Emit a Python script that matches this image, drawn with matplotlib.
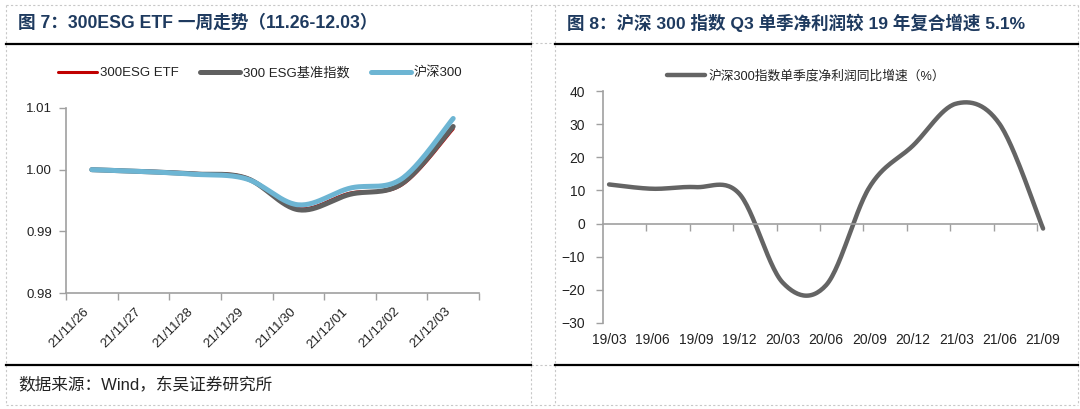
import matplotlib
matplotlib.use("Agg")
import matplotlib.pyplot as plt
import numpy as np
from matplotlib.transforms import blended_transform_factory

plt.rcParams['font.family'] = ['Liberation Sans', 'Noto Sans CJK SC', 'DejaVu Sans']

W, H = 1080, 409

# ---- data: left chart (one-week trend) ----
dates = ['21/11/26', '21/11/27', '21/11/28', '21/11/29',
         '21/11/30', '21/12/01', '21/12/02', '21/12/03']
etf = [1.0000, 0.9998, 0.9994, 0.9987, 0.9937, 0.9962, 0.9975, 1.0066]
bench = [1.0000, 0.9997, 0.9993, 0.9986, 0.9935, 0.9960, 0.9977, 1.0070]
hs300 = [1.0000, 0.9997, 0.99925, 0.9985, 0.9943, 0.9970, 0.9985, 1.0083]

# ---- data: right chart (quarterly net profit yoy, %) ----
quarters = ['19/03', '19/06', '19/09', '19/12', '20/03', '20/06',
            '20/09', '20/12', '21/03', '21/06', '21/09']
profit_yoy = [11.8, 10.5, 11.0, 9.0, -17.8, -18.6, 11.0, 23.5, 36.2, 30.0, -1.5]

TITLE_C = '#1e3a5f'
AXIS_C = '#a0a0a0'


def box(x0, y0, x1, y1):
    return [x0 / W, 1 - y1 / H, (x1 - x0) / W, (y1 - y0) / H]


def smooth(y, n=30):
    # excel-like smoothed line (catmull-rom through the points)
    y = np.asarray(y, float)
    x = np.arange(len(y), dtype=float)
    px = np.concatenate([[x[0]], x, [x[-1]]])
    py = np.concatenate([[y[0]], y, [y[-1]]])
    xs, ys = [], []
    t = np.linspace(0, 1, n)
    for i in range(len(y) - 1):
        for arr, out in ((px, xs), (py, ys)):
            p0, p1, p2, p3 = arr[i], arr[i + 1], arr[i + 2], arr[i + 3]
            seg = 0.5 * (2 * p1 + (-p0 + p2) * t
                         + (2 * p0 - 5 * p1 + 4 * p2 - p3) * t ** 2
                         + (-p0 + 3 * p1 - 3 * p2 + p3) * t ** 3)
            out.extend(seg if i == 0 else seg[1:])
    return np.array(xs), np.array(ys)


fig = plt.figure(figsize=(W / 100, H / 100), dpi=100)

# page frame (table cells, rules, titles)
bg = fig.add_axes([0, 0, 1, 1])
bg.set_xlim(0, W)
bg.set_ylim(H, 0)
bg.axis('off')
dash = dict(color='#c8c8c8', lw=0.8, ls=(0, (2, 2)))
for xx in (6, 531, 555, 1078):
    bg.plot([xx, xx], [5, 405], **dash)
bg.plot([6, 1078], [5, 5], **dash)
bg.plot([6, 1078], [405, 405], **dash)
bg.plot([531, 555], [43, 43], **dash)
bg.plot([531, 555], [365, 365], **dash)
for x0, x1 in ((6, 531), (555, 1078)):
    bg.plot([x0, x1], [43.5, 43.5], color='black', lw=1.6)
    bg.plot([x0, x1], [365, 365], color='black', lw=1.6)

bg.text(18, 23, '图 7：300ESG ETF 一周走势（11.26-12.03）', fontsize=12.7,
        fontweight='bold', color=TITLE_C, va='center', ha='left')
bg.text(567, 23, '图 8：沪深 300 指数 Q3 单季净利润较 19 年复合增速 5.1%', fontsize=12.6,
        fontweight='bold', color=TITLE_C, va='center', ha='left')
bg.text(18, 385, '数据来源：Wind，东吴证券研究所', fontsize=12,
        color='#222222', va='center', ha='left')

# ---- left chart ----
ax1 = fig.add_axes(box(66, 108, 479, 293))
ax1.set_facecolor('none')
x1s, y1s = smooth(etf)
ax1.plot(x1s, y1s, color='#c00000', lw=2.2, solid_capstyle='round', label='300ESG ETF')
x2s, y2s = smooth(bench)
ax1.plot(x2s, y2s, color='#606060', lw=3.6, solid_capstyle='round', label='300 ESG基准指数')
x3s, y3s = smooth(hs300)
ax1.plot(x3s, y3s, color='#6db5d3', lw=3.6, solid_capstyle='round', label='沪深300')

ax1.set_xlim(-0.5, len(dates) - 0.5)
ax1.set_ylim(0.98, 1.01)
ax1.set_yticks([0.98, 0.99, 1.00, 1.01])
ax1.set_yticklabels(['0.98', '0.99', '1.00', '1.01'])
ax1.set_xticks(np.arange(len(dates) + 1) - 0.5)
ax1.set_xticklabels([])
ax1.set_xticks(np.arange(len(dates)), minor=True)
ax1.set_xticklabels(dates, minor=True, rotation=45, ha='right', va='top', fontsize=9.5)
ax1.tick_params(axis='x', which='minor', length=0, pad=9, colors='#222222')
ax1.tick_params(axis='x', which='major', length=5, width=1, color=AXIS_C, direction='out')
ax1.tick_params(axis='y', length=5, width=1, color=AXIS_C, pad=5, labelsize=9.5,
                labelcolor='#222222')
for s in ['top', 'right']:
    ax1.spines[s].set_visible(False)
for s in ['left', 'bottom']:
    ax1.spines[s].set_color(AXIS_C)
    ax1.spines[s].set_linewidth(1.2)

leg1 = ax1.legend(loc='center', bbox_to_anchor=(260 / W, 1 - 73 / H),
                  bbox_transform=fig.transFigure, ncol=3, frameon=False,
                  fontsize=9.5, handlelength=3.0, handletextpad=0.25,
                  columnspacing=1.6, borderpad=0, borderaxespad=0)
for t in leg1.get_texts():
    t.set_color('#222222')

# ---- right chart ----
ax2 = fig.add_axes(box(603, 91, 1037, 323))
ax2.set_facecolor('none')
xq, yq = smooth(profit_yoy)
ax2.plot(xq, yq, color='#646464', lw=3.2, solid_capstyle='round', clip_on=False,
         label='沪深300指数单季度净利润同比增速（%）')
ax2.set_xlim(-0.14, len(quarters) - 1.14)
ax2.set_ylim(-30, 40)
ax2.set_yticks(np.arange(-30, 41, 10))
ax2.spines['bottom'].set_position(('data', 0))
ax2.set_xticks(np.arange(1, len(quarters)) - 0.14)
ax2.set_xticklabels([])
ax2.tick_params(axis='x', length=5, width=1, color=AXIS_C, direction='out')
ax2.tick_params(axis='y', length=5, width=1, color=AXIS_C, pad=8, labelsize=10,
                labelcolor='#222222')
for s in ['top', 'right']:
    ax2.spines[s].set_visible(False)
for s in ['left', 'bottom']:
    ax2.spines[s].set_color(AXIS_C)
    ax2.spines[s].set_linewidth(1.2)
trans = blended_transform_factory(ax2.transData, ax2.transAxes)
for i, q in enumerate(quarters):
    ax2.text(i, -0.073, q, transform=trans, ha='center', va='center',
             fontsize=10, color='#222222')

leg2 = ax2.legend(loc='center', bbox_to_anchor=(806 / W, 1 - 76 / H),
                  bbox_transform=fig.transFigure, frameon=False, fontsize=9.2,
                  handlelength=3.0, handletextpad=0.25, borderpad=0, borderaxespad=0)
for t in leg2.get_texts():
    t.set_color('#222222')

fig.savefig('out.png', dpi=100)
